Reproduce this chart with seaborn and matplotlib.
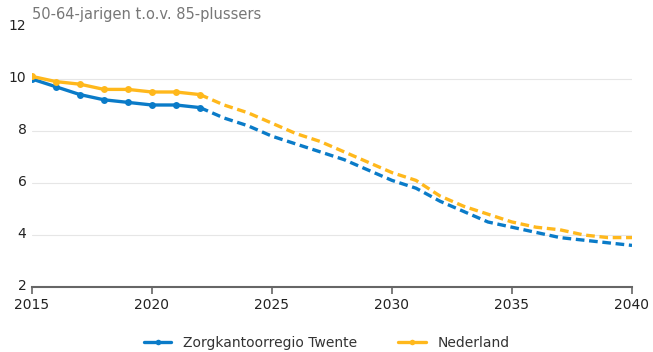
import numpy as np
import pandas as pd
import seaborn as sns
import matplotlib.pyplot as plt
import matplotlib.transforms as mtransforms
from matplotlib.lines import Line2D

# values
years = list(range(2015, 2041))
twente = [10.0, 9.7, 9.4, 9.2, 9.1, 9.0, 9.0, 8.9,
          8.5, 8.2, 7.8, 7.5, 7.2, 6.9, 6.5, 6.1, 5.8, 5.3,
          4.9, 4.5, 4.3, 4.1, 3.9, 3.8, 3.7, 3.6]
nederland = [10.1, 9.9, 9.8, 9.6, 9.6, 9.5, 9.5, 9.4,
             9.0, 8.7, 8.3, 7.9, 7.6, 7.2, 6.8, 6.4, 6.1, 5.5,
             5.1, 4.8, 4.5, 4.3, 4.2, 4.0, 3.9, 3.9]
last_observed = 2022
series_names = ['Zorgkantoorregio Twente', 'Nederland']
colors = {'Zorgkantoorregio Twente': '#0a7bc8', 'Nederland': '#ffb81c'}

df = pd.DataFrame({'jaar': years * 2,
                   'waarde': twente + nederland,
                   'regio': [series_names[0]] * len(years) + [series_names[1]] * len(years)})
obs = df[df['jaar'] <= last_observed]
prog = df[df['jaar'] >= last_observed]

sns.set_style('white')
fig = plt.figure(figsize=(6.53, 3.52), dpi=100)
ax = fig.add_axes([32 / 653, 1 - 287 / 352, 600 / 653, 260 / 352])

# prognosis (dashed) first, then observed (solid with markers)
for name in series_names:
    sub = prog[prog['regio'] == name]
    sns.lineplot(data=sub, x='jaar', y='waarde', color=colors[name], lw=2.4,
                 linestyle=(0, (2.6, 1.4)), ax=ax, legend=False)
for name in series_names:
    sub = obs[obs['regio'] == name]
    sns.lineplot(data=sub, x='jaar', y='waarde', color=colors[name], lw=2.4,
                 marker='o', markersize=5, markeredgewidth=0, ax=ax, legend=False)

ax.set_xlim(2015, 2040)
ax.set_ylim(2, 12)
ax.set_xticks([2015, 2020, 2025, 2030, 2035, 2040])
ax.set_yticks([2, 4, 6, 8, 10, 12])
ax.set_xlabel('')
ax.set_ylabel('')
for y in [4, 6, 8, 10]:
    ax.axhline(y, color='#e6e6e6', lw=0.8, zorder=0)

for s in ['top', 'right', 'left']:
    ax.spines[s].set_visible(False)
ax.spines['bottom'].set_color('#666666')
ax.spines['bottom'].set_linewidth(1.5)
ax.tick_params(axis='x', direction='out', length=5, width=1.2, color='#666666',
               labelsize=10, labelcolor='#222222', pad=3, bottom=True)
ax.tick_params(axis='y', length=0, labelsize=10, labelcolor='#222222', pad=4)
offset = mtransforms.ScaledTranslation(0, 3 / 100, fig.dpi_scale_trans)
for lbl in ax.get_yticklabels():
    lbl.set_transform(lbl.get_transform() + offset)

fig.text(32 / 653, 1 - 15 / 352, '50-64-jarigen t.o.v. 85-plussers', color='#777777',
         fontsize=10.5, va='center', ha='left')

handles = [Line2D([], [], color=colors[n], lw=2.4, marker='o', markersize=4,
                  markeredgewidth=0) for n in series_names]
fig.legend(handles, series_names, loc='center', bbox_to_anchor=(0.5, 1 - 343 / 352),
           ncol=2, frameon=False, fontsize=10, handlelength=2.0, columnspacing=3,
           labelcolor='#333333')

fig.savefig('out.png', dpi=100)
